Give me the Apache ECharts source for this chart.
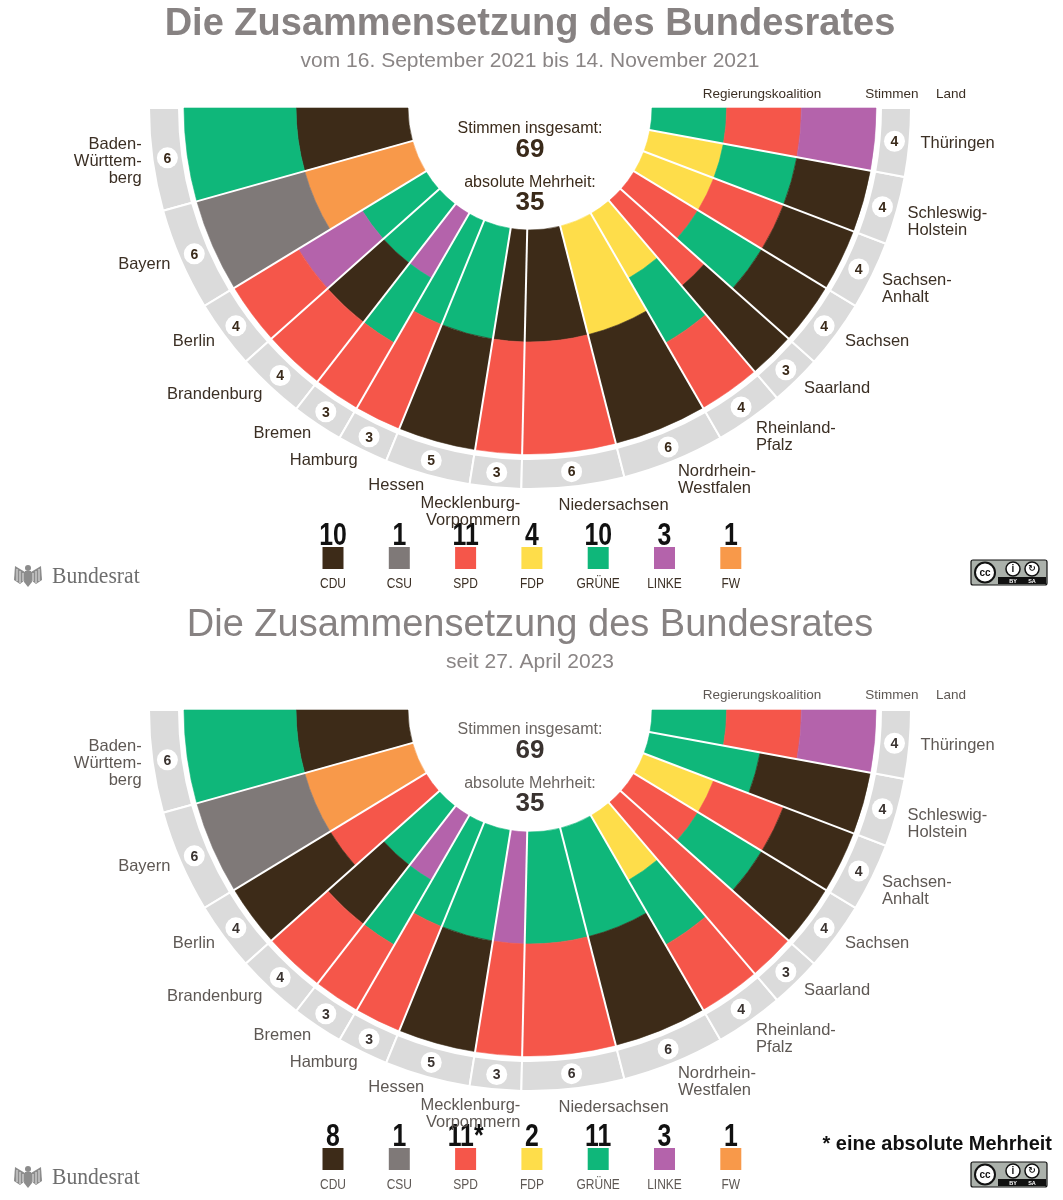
<!DOCTYPE html>
<html><head><meta charset="utf-8">
<script src="https://cdn.jsdelivr.net/npm/echarts@6/dist/echarts.min.js"></script>
<style>html,body{margin:0;padding:0;background:#fff;} .c{width:1063px;height:600px;} #c2{filter:blur(0.5px);}</style>
</head><body><div id="c1" class="c"></div><div id="c2" class="c"></div>
<script>
// ---------- DATA ----------
const states = ['Baden-Württemberg','Bayern','Berlin','Brandenburg','Bremen','Hamburg','Hessen','Mecklenburg-Vorpommern','Niedersachsen','Nordrhein-Westfalen','Rheinland-Pfalz','Saarland','Sachsen','Sachsen-Anhalt','Schleswig-Holstein','Thüringen'];
const stateLabels = ['Baden-\nWürttem-\nberg','Bayern','Berlin','Brandenburg','Bremen','Hamburg','Hessen','Mecklenburg-\nVorpommern','Niedersachsen','Nordrhein-\nWestfalen','Rheinland-\nPfalz','Saarland','Sachsen','Sachsen-\nAnhalt','Schleswig-\nHolstein','Thüringen'];
const votes = [6,6,4,4,3,3,5,3,6,6,4,3,4,4,4,4];
const parties = ['CDU','CSU','SPD','FDP','GRÜNE','LINKE','FW'];
// coalition parties per state, from inner ring to outer ring
const coalitions2021 = [['CDU','GRÜNE'],['FW','CSU'],['GRÜNE','LINKE','SPD'],['GRÜNE','CDU','SPD'],['LINKE','GRÜNE','SPD'],['GRÜNE','SPD'],['GRÜNE','CDU'],['CDU','SPD'],['CDU','SPD'],['FDP','CDU'],['FDP','GRÜNE','SPD'],['SPD','CDU'],['SPD','GRÜNE','CDU'],['FDP','SPD','CDU'],['FDP','GRÜNE','CDU'],['GRÜNE','SPD','LINKE']];
const coalitions2023 = [['CDU','GRÜNE'],['FW','CSU'],['SPD','CDU'],['GRÜNE','CDU','SPD'],['LINKE','GRÜNE','SPD'],['GRÜNE','SPD'],['GRÜNE','CDU'],['LINKE','SPD'],['GRÜNE','SPD'],['GRÜNE','CDU'],['FDP','GRÜNE','SPD'],['SPD'],['SPD','GRÜNE','CDU'],['FDP','SPD','CDU'],['GRÜNE','CDU'],['GRÜNE','SPD','LINKE']];
const legendCounts2021 = ['10','1','11','4','10','3','1'];
const legendCounts2023 = ['8','1','11*','2','11','3','1'];
const totalText = '69';
const majorityText = '35';
const title = 'Die Zusammensetzung des Bundesrates';
const subtitle2021 = 'vom 16. September 2021 bis 14. November 2021';
const subtitle2023 = 'seit 27. April 2023';
const footnote2023 = '* eine absolute Mehrheit';

// ---------- STYLE / LAYOUT ----------
const partyColors = {CDU:'#3d2b18', CSU:'#7f7978', SPD:'#f5564a', FDP:'#fedd4a', 'GRÜNE':'#0fb77a', LINKE:'#b463ab', FW:'#f8994a'};
const CX = 530, R_IN = 122, R_OUT = 346, RING0 = 351, RING1 = 381, BADGE_R = 366, LABEL_R = 392, RMAX = 420;
const SANS = "'Liberation Sans', Arial, Helvetica, sans-serif";
const SERIF = "'Liberation Serif', 'DejaVu Serif', serif";
const NARROW_SCALE = 0.8;
const labelNudge = {7:{dx:26, dy:-3, align:'right', va:'top'}, 8:{dx:-16, dy:7.5, align:'left', va:'middle'}};

function norm(a){ return a < -Math.PI/2 ? a + 2*Math.PI : a; }
function pt(api, cs, r, v){ const p = api.coord([r, v]); return {x:p[0], y:p[1], r:Math.hypot(p[0]-cs.cx, p[1]-cs.cy), ang:norm(Math.atan2(p[1]-cs.cy, p[0]-cs.cx))}; }

function makeOption(cfg){
  const cum = []; let s = 0; votes.forEach(v => { cum.push(s); s += v; });
  const total = s;
  const bandItems = [];
  votes.forEach((v,i) => {
    const parts = cfg.coalitions[i]; const w = (R_OUT - R_IN) / parts.length;
    parts.forEach((p,j) => bandItems.push([R_IN + j*w, R_IN + (j+1)*w, cum[i], cum[i] + v, parties.indexOf(p)]));
  });
  const ringItems = votes.map((v,i) => [RING0, RING1, cum[i], cum[i] + v, i]);
  const sepItems = cum.slice(1).map(c => [R_IN - 2, R_OUT + 3, c, c]);

  const renderBand = (params, api) => {
    const cs = params.coordSys;
    const a = pt(api, cs, api.value(0), api.value(2)), b = pt(api, cs, api.value(1), api.value(3));
    const col = partyColors[parties[api.value(4)]];
    return {type:'sector', shape:{cx:cs.cx, cy:cs.cy, r0:a.r, r:b.r, startAngle:b.ang, endAngle:a.ang, clockwise:true},
      style:{fill:col, stroke:col, lineWidth:0.6}};
  };
  const renderRing = (params, api) => {
    const cs = params.coordSys;
    const v0 = api.value(2), v1 = api.value(3), idx = api.value(4), m = (v0 + v1) / 2;
    const a = pt(api, cs, api.value(0), v0), b = pt(api, cs, api.value(1), v1);
    const bc = pt(api, cs, BADGE_R, m);
    const lp = pt(api, cs, LABEL_R, m);
    const lines = stateLabels[idx].split('\n').length;
    let align = m < total/2 ? 'right' : 'left';
    let va = lines === 2 ? 'top' : 'middle';
    let lx = lp.x, ly = lp.y + (lines === 2 ? -8.5 : 0);
    if (labelNudge[idx]) { const n = labelNudge[idx]; align = n.align; va = n.va; lx = lp.x + n.dx; ly = lp.y + n.dy; }
    return {type:'group', children:[
      {type:'sector', shape:{cx:cs.cx, cy:cs.cy, r0:a.r, r:b.r, startAngle:b.ang, endAngle:a.ang, clockwise:true},
        style:{fill:'#dbdbdb', stroke:'#fff', lineWidth:2}},
      {type:'circle', shape:{cx:bc.x, cy:bc.y, r:10.5}, style:{fill:'#fff'}},
      {type:'text', style:{x:bc.x, y:bc.y + 1, text:String(votes[idx]), align:'center', verticalAlign:'middle',
        fontFamily:SANS, fontWeight:'bold', fontSize:14, fill:cfg.dark}},
      {type:'text', style:{x:lx, y:ly, text:stateLabels[idx], align:align, verticalAlign:va,
        fontFamily:SANS, fontSize:16.5, lineHeight:17, fill:cfg.labelColor}}
    ]};
  };
  const renderSep = (params, api) => {
    const cs = params.coordSys;
    const a = pt(api, cs, api.value(0), api.value(2)), b = pt(api, cs, api.value(1), api.value(3));
    return {type:'line', shape:{x1:a.x, y1:a.y, x2:b.x, y2:b.y}, style:{stroke:'#fff', lineWidth:2}};
  };

  const oy = cfg.oy;
  const T = (x, y, text, o, sx) => ({type:'text', x:x, y:y, scaleX:sx || 1, silent:true,
    style:Object.assign({text:text, align:'center', verticalAlign:'middle', fontFamily:SANS, fill:cfg.dark}, o)});
  const els = [
    T(CX, 25 + oy, title, {fontSize:38, fontWeight:cfg.titleWeight, fill:'#878282'}),
    T(CX, 61 + oy, cfg.subtitle, {fontSize:21, fill:'#8a8585'}),
    T(762, 94 + oy, 'Regierungskoalition', {fontSize:13.5, fill:cfg.labelColor}),
    T(892, 94 + oy, 'Stimmen', {fontSize:13.5, fill:cfg.labelColor}),
    T(951, 94 + oy, 'Land', {fontSize:13.5, fill:cfg.labelColor}),
    T(CX, 129 + oy, 'Stimmen insgesamt:', {fontSize:16, fill:cfg.centerColor}),
    T(CX, 150 + oy, totalText, {fontSize:26, fontWeight:'bold', fill:cfg.dark}),
    T(CX, 183 + oy, 'absolute Mehrheit:', {fontSize:16, fill:cfg.centerColor}),
    T(CX, 203 + oy, majorityText, {fontSize:26, fontWeight:'bold', fill:cfg.dark})
  ];
  parties.forEach((p,i) => {
    const x = 333 + i * 66.3;
    els.push(T(x, 536 + oy, cfg.counts[i], {fontSize:31, fontWeight:'bold', fill:'#111'}, NARROW_SCALE));
    els.push({type:'rect', silent:true, shape:{x:x - 10.5, y:547 + oy, width:21, height:22}, style:{fill:partyColors[p]}});
    els.push(T(x, 584 + oy, p, {fontSize:15, fill:cfg.labelColor}, NARROW_SCALE));
  });
  if (cfg.footnote) els.push(T(1052, 543 + oy, cfg.footnote, {align:'right', fontSize:21, fontWeight:'bold', fill:'#111'}, 0.95));
  // Bundesrat logo (simplified eagle + wordmark)
  const ey = 577 + oy, ex = 28;
  els.push({type:'group', silent:true, children:[
    {type:'circle', shape:{cx:ex, cy:ey - 9, r:3}, style:{fill:'#8c8c8c'}},
    {type:'polygon', shape:{points:[[ex-3,ey-6],[ex+3,ey-6],[ex+4,ey+5],[ex,ey+10],[ex-4,ey+5]]}, style:{fill:'#8c8c8c'}},
    {type:'polygon', shape:{points:[[ex-3,ey-5],[ex-13,ey-11],[ex-14,ey+3],[ex-8,ey+7],[ex-3,ey+3]]}, style:{fill:'#8c8c8c'}},
    {type:'polygon', shape:{points:[[ex+3,ey-5],[ex+13,ey-11],[ex+14,ey+3],[ex+8,ey+7],[ex+3,ey+3]]}, style:{fill:'#8c8c8c'}},
    {type:'line', shape:{x1:ex-11,y1:ey-8,x2:ex-11,y2:ey+4}, style:{stroke:'#fff', lineWidth:0.8}},
    {type:'line', shape:{x1:ex-8,y1:ey-6,x2:ex-8,y2:ey+6}, style:{stroke:'#fff', lineWidth:0.8}},
    {type:'line', shape:{x1:ex-5,y1:ey-4,x2:ex-5,y2:ey+4}, style:{stroke:'#fff', lineWidth:0.8}},
    {type:'line', shape:{x1:ex+11,y1:ey-8,x2:ex+11,y2:ey+4}, style:{stroke:'#fff', lineWidth:0.8}},
    {type:'line', shape:{x1:ex+8,y1:ey-6,x2:ex+8,y2:ey+6}, style:{stroke:'#fff', lineWidth:0.8}},
    {type:'line', shape:{x1:ex+5,y1:ey-4,x2:ex+5,y2:ey+4}, style:{stroke:'#fff', lineWidth:0.8}}
  ]});
  els.push(T(52, ey, 'Bundesrat', {align:'left', fontFamily:SERIF, fontSize:23, fill:'#6e6e6e'}, 0.94));
  // CC BY-SA badge
  const by = cfg.ccY;
  els.push({type:'group', silent:true, children:[
    {type:'rect', shape:{x:971, y:by, width:76, height:25, r:2}, style:{fill:'#abb1ab', stroke:'#111', lineWidth:1.2}},
    {type:'rect', shape:{x:998, y:by + 17, width:48, height:7}, style:{fill:'#111'}},
    {type:'circle', shape:{cx:985, cy:by + 12.5, r:10}, style:{fill:'#fff', stroke:'#111', lineWidth:2}},
    {type:'text', style:{x:985, y:by + 13, text:'cc', align:'center', verticalAlign:'middle', fontFamily:SANS, fontWeight:'bold', fontSize:10, fill:'#111'}},
    {type:'circle', shape:{cx:1013, cy:by + 9, r:7}, style:{fill:'#fff', stroke:'#111', lineWidth:1.5}},
    {type:'circle', shape:{cx:1032, cy:by + 9, r:7}, style:{fill:'#fff', stroke:'#111', lineWidth:1.5}},
    {type:'text', style:{x:1013, y:by + 9, text:'i', align:'center', verticalAlign:'middle', fontFamily:SANS, fontWeight:'bold', fontSize:10, fill:'#111'}},
    {type:'text', style:{x:1032, y:by + 9, text:'\u21bb', align:'center', verticalAlign:'middle', fontFamily:"'DejaVu Sans'", fontWeight:'bold', fontSize:9, fill:'#111'}},
    {type:'text', style:{x:1013, y:by + 21, text:'BY', align:'center', verticalAlign:'middle', fontFamily:SANS, fontWeight:'bold', fontSize:5.5, fill:'#fff'}},
    {type:'text', style:{x:1032, y:by + 21, text:'SA', align:'center', verticalAlign:'middle', fontFamily:SANS, fontWeight:'bold', fontSize:5.5, fill:'#fff'}}
  ]});

  return {
    animation:false,
    polar:{center:[CX, cfg.cy], radius:[0, RMAX]},
    angleAxis:{type:'value', min:0, max:total*2, startAngle:180, clockwise:false, show:false},
    radiusAxis:{type:'value', min:0, max:RMAX, show:false},
    series:[
      {type:'custom', coordinateSystem:'polar', data:bandItems, renderItem:renderBand, z:2, silent:true},
      {type:'custom', coordinateSystem:'polar', data:ringItems, renderItem:renderRing, z:2, silent:true},
      {type:'custom', coordinateSystem:'polar', data:sepItems, renderItem:renderSep, z:3, silent:true}
    ],
    graphic:{elements:els}
  };
}

const c1 = echarts.init(document.getElementById('c1'));
c1.setOption(makeOption({cy:108, oy:0, coalitions:coalitions2021, counts:legendCounts2021, subtitle:subtitle2021,
  titleWeight:'bold', dark:'#3a2a1a', labelColor:'#3b2f24', centerColor:'#3a2a1a', ccY:560, footnote:null}));
const c2 = echarts.init(document.getElementById('c2'));
c2.setOption(makeOption({cy:110, oy:1, coalitions:coalitions2023, counts:legendCounts2023, subtitle:subtitle2023,
  titleWeight:'normal', dark:'#3a3330', labelColor:'#5e5854', centerColor:'#6a6460', ccY:562, footnote:footnote2023}));
</script></body></html>
